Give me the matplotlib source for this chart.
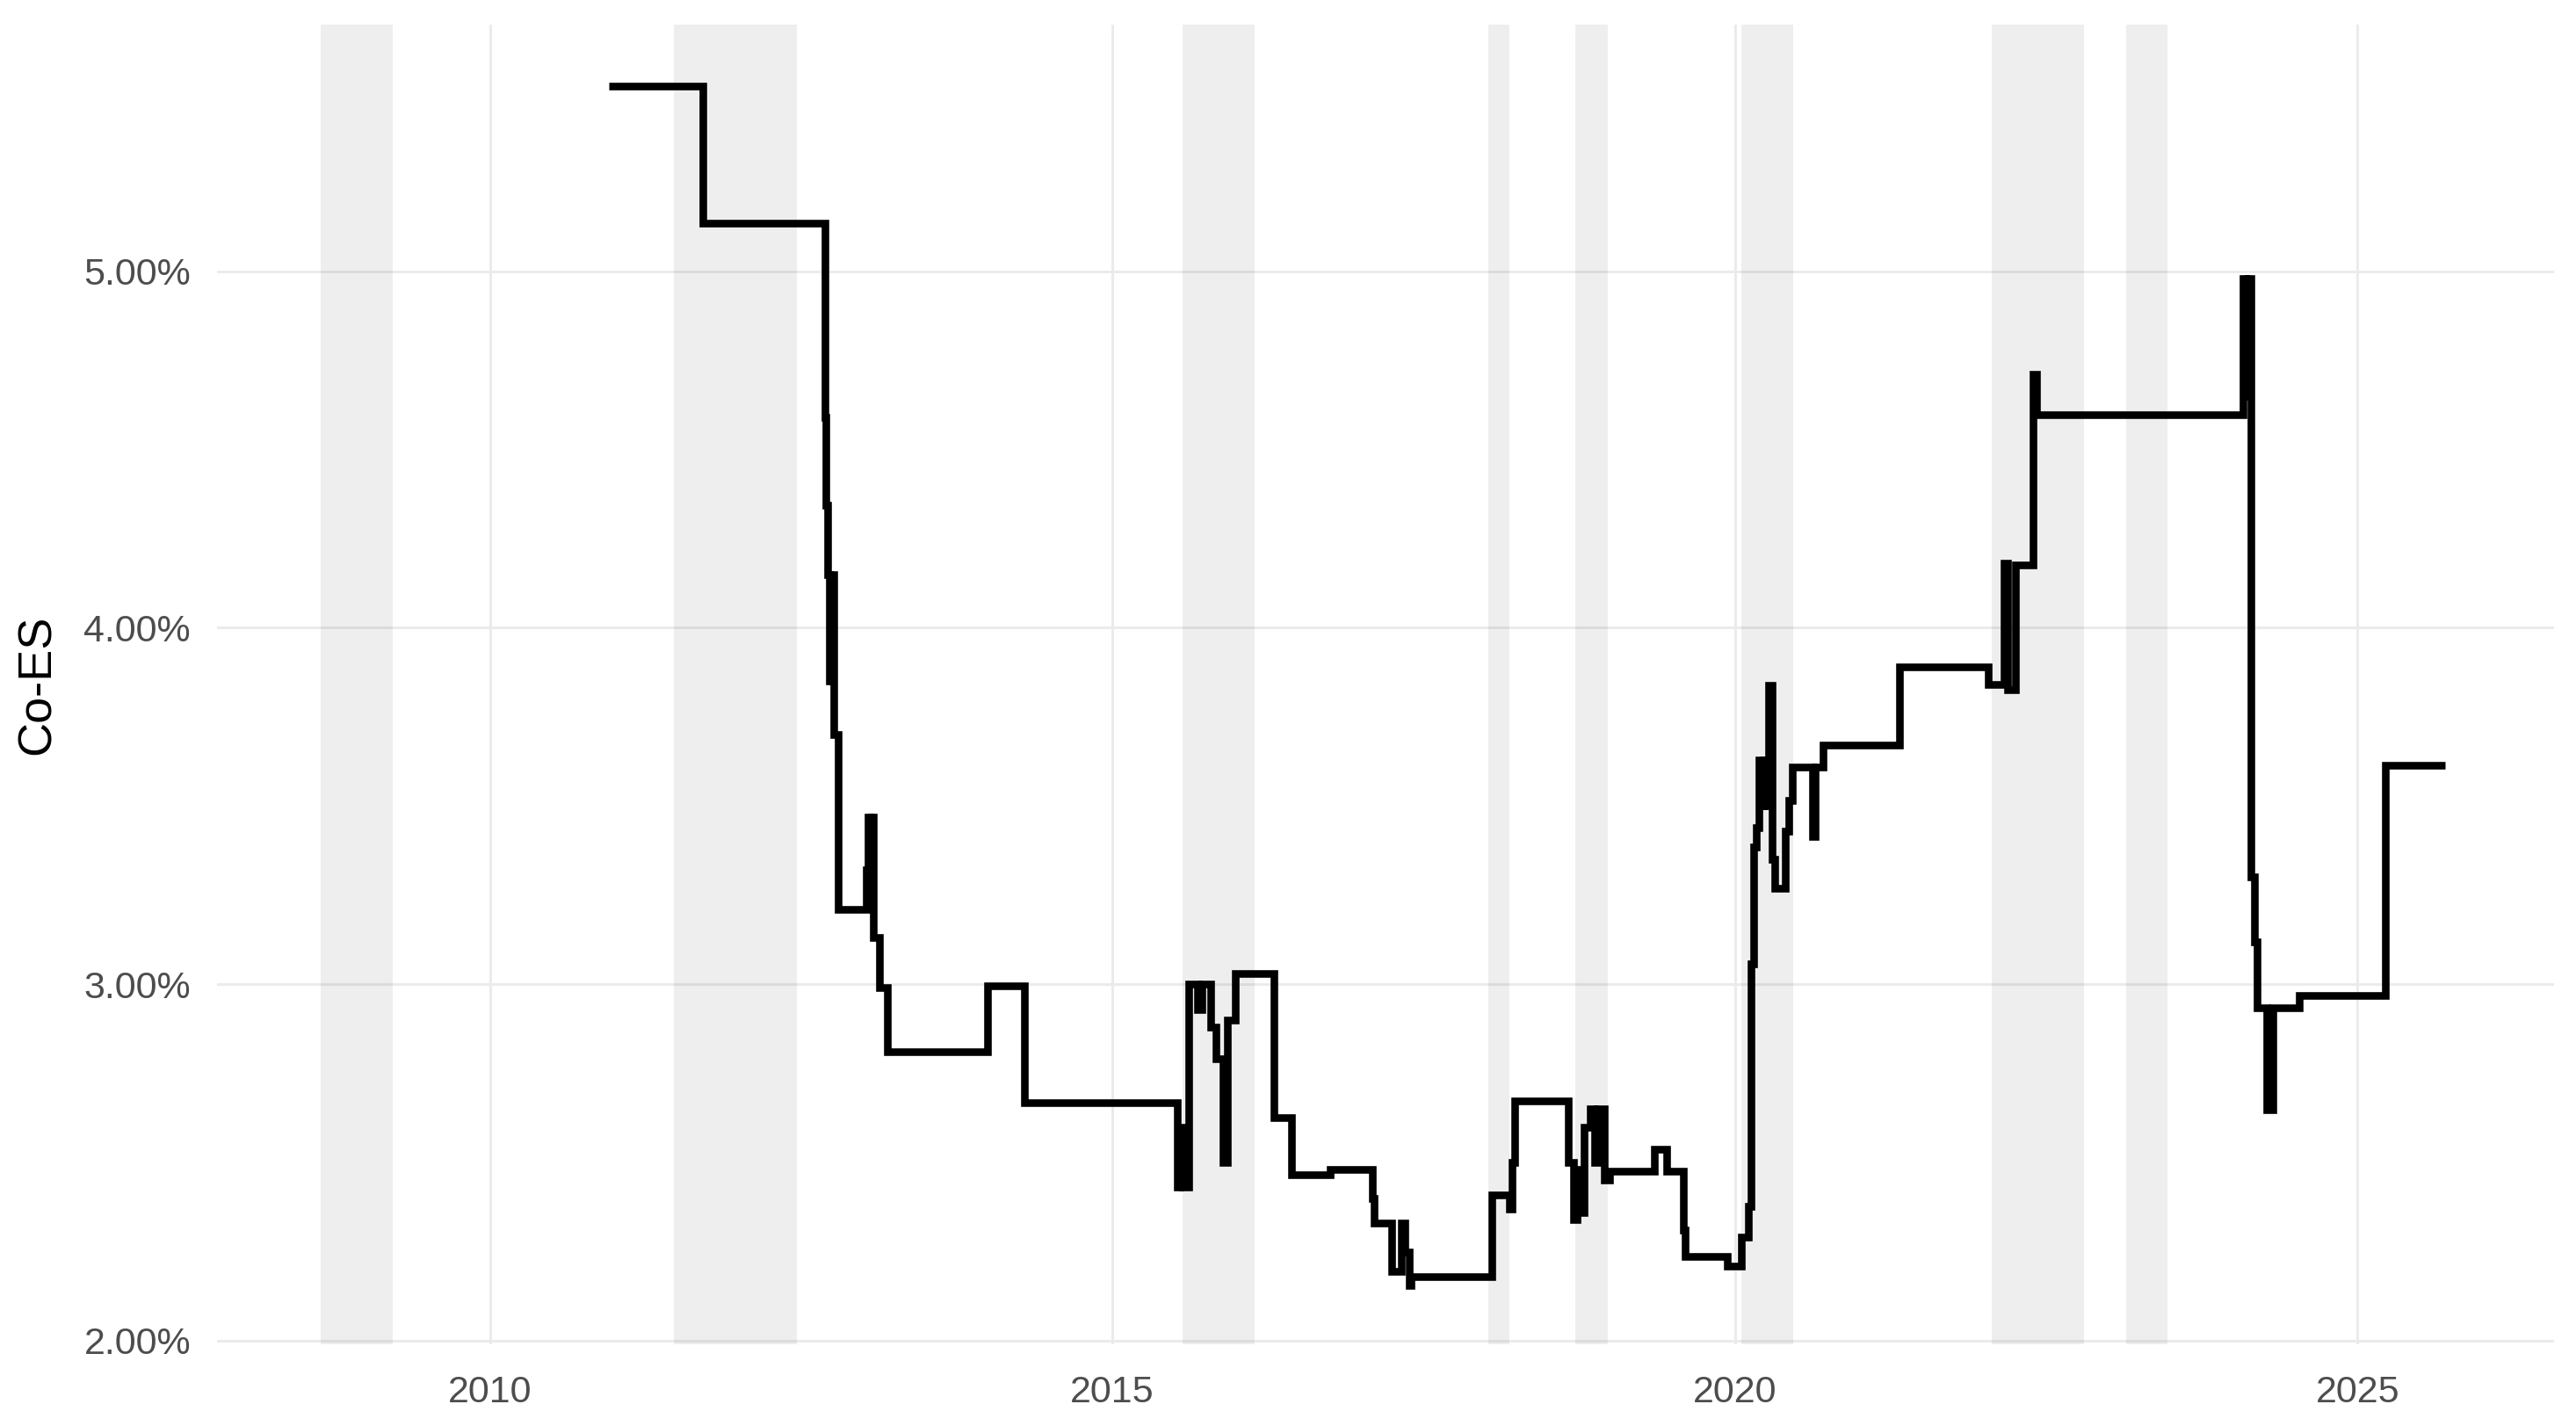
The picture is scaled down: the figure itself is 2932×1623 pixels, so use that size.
import matplotlib
matplotlib.use("Agg")
import matplotlib.pyplot as plt
import numpy as np

# ---- data (decimal years, Co-ES in %) ----
step_years = [
    2010.955, 2011.71, 2012.69, 2012.70, 2012.715, 2012.725, 2012.735, 2012.745,
    2012.755, 2012.765, 2012.80, 2013.02, 2013.035, 2013.05, 2013.065, 2013.08,
    2013.13, 2013.19, 2014.00, 2014.29, 2015.52, 2015.54, 2015.56, 2015.61,
    2015.68, 2015.72, 2015.79, 2015.83, 2015.89, 2015.92, 2015.99, 2016.30,
    2016.44, 2016.75, 2017.085, 2017.10, 2017.245, 2017.32, 2017.35, 2017.38,
    2017.40, 2018.05, 2018.19, 2018.21, 2018.23, 2018.66, 2018.70, 2018.73,
    2018.75, 2018.79, 2018.84, 2018.87, 2018.89, 2018.95, 2018.99, 2019.35,
    2019.45, 2019.585, 2019.60, 2019.94, 2020.05, 2020.11, 2020.13, 2020.15,
    2020.17, 2020.19, 2020.21, 2020.23, 2020.25, 2020.27, 2020.30, 2020.32,
    2020.40, 2020.43, 2020.46, 2020.62, 2020.64, 2020.71, 2021.32, 2022.03,
    2022.16, 2022.19, 2022.25, 2022.39, 2022.42, 2024.08, 2024.10, 2024.12,
    2024.14, 2024.17, 2024.19, 2024.27, 2024.32, 2024.53, 2025.22, 2025.70,
]
coes_pct = [
    5.52, 5.135, 4.59, 4.345, 4.15, 3.85, 4.13, 3.85,
    4.15, 3.70, 3.21, 3.32, 3.47, 3.40, 3.47, 3.13,
    2.99, 2.81, 2.996, 2.667, 2.43, 2.60, 2.43, 3.00,
    2.93, 3.00, 2.88, 2.79, 2.50, 2.90, 3.03, 2.626,
    2.466, 2.48, 2.40, 2.33, 2.195, 2.33, 2.25, 2.155,
    2.18, 2.41, 2.37, 2.50, 2.673, 2.50, 2.34, 2.48,
    2.36, 2.60, 2.65, 2.50, 2.65, 2.45, 2.475, 2.537,
    2.475, 2.31, 2.237, 2.21, 2.29, 2.376, 3.056, 3.385,
    3.44, 3.63, 3.50, 3.63, 3.50, 3.838, 3.35, 3.27,
    3.43, 3.515, 3.61, 3.415, 3.61, 3.671, 3.89, 3.84,
    4.18, 3.826, 4.175, 4.71, 4.598, 4.98, 4.65, 4.98,
    3.30, 3.12, 2.935, 2.647, 2.935, 2.968, 3.615, 3.615,
]

band_starts = [2008.645, 2011.478, 2015.566, 2018.02, 2018.72, 2020.05, 2022.06, 2023.14]
band_ends   = [2009.22, 2012.466, 2016.142, 2018.185, 2018.98, 2020.467, 2022.80, 2023.47]

x_ticks = [2010, 2015, 2020, 2025]
y_ticks = [2.0, 3.0, 4.0, 5.0]

# ---- figure ----
W, H = 2932, 1623
DPI = 200
fig = plt.figure(figsize=(W / DPI, H / DPI), dpi=DPI)
ax_left, ax_right = 247 / W, 2907 / W
ax_bottom, ax_top = 1 - 1530 / H, 1 - 28 / H
ax = fig.add_axes([ax_left, ax_bottom, ax_right - ax_left, ax_top - ax_bottom])

font = "Liberation Sans"

ax.set_xlim(2007.809, 2026.577)
ax.set_ylim(1.990, 5.692)

# grid
ax.set_axisbelow(True)
ax.grid(True, which="major", color="#EBEBEB", linewidth=1.05)
for s in ax.spines.values():
    s.set_visible(False)

# shaded periods
for s0, s1 in zip(band_starts, band_ends):
    ax.axvspan(s0, s1, color="black", alpha=0.067, linewidth=0, zorder=2)

# series
ax.plot(step_years, coes_pct, drawstyle="steps-post", color="black",
        linewidth=3.1, solid_joinstyle="miter", solid_capstyle="butt", zorder=3)

ax.set_xticks(x_ticks)
ax.set_xticklabels([str(t) for t in x_ticks])
ax.set_yticks(y_ticks)
ax.set_yticklabels([f"{v:.2f}%" for v in y_ticks])
ax.tick_params(axis="both", length=0, labelsize=15.5, labelcolor="#4D4D4D")
ax.tick_params(axis="x", pad=12.5)
ax.tick_params(axis="y", pad=10.8)
for lab in ax.get_xticklabels() + ax.get_yticklabels():
    lab.set_fontfamily(font)

ax.set_ylabel("Co-ES", fontsize=19.5, fontfamily=font, color="black")
ax.yaxis.set_label_coords(-0.0767, 0.5)
ax.yaxis.label.set_verticalalignment("center")

fig.savefig("out.png", dpi=DPI, facecolor="white")
